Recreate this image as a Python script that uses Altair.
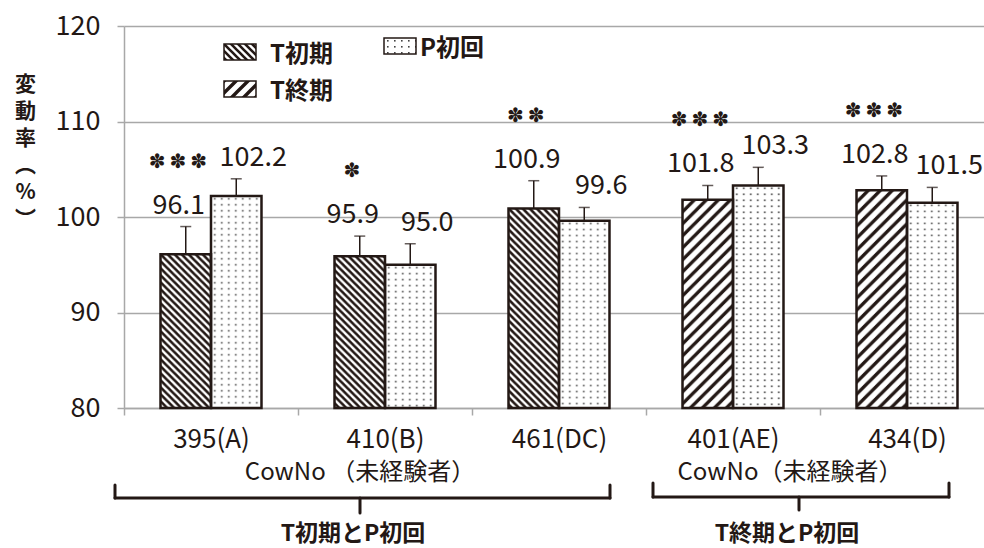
import altair as alt
import pandas as pd
from urllib.parse import quote

# ---- data -------------------------------------------------------------
categories = ["395(A)", "410(B)", "461(DC)", "401(AE)", "434(D)"]
t_phase = ["T初期", "T初期", "T初期", "T終期", "T終期"]
t_values = [96.1, 95.9, 100.9, 101.8, 102.8]
t_errors = [2.9, 2.1, 2.9, 1.5, 1.5]
p_values = [102.2, 95.0, 99.6, 103.3, 101.5]
p_errors = [1.8, 2.2, 1.4, 1.9, 1.6]
significance = ["***", "*", "**", "***", "***"]
y_ticks = [80, 90, 100, 110, 120]

rows = []
for i, cow in enumerate(categories):
    rows.append({"cow": cow, "slot": "T", "series": t_phase[i],
                 "value": t_values[i], "err": t_errors[i],
                 "sig": "\u2009".join("✽" * significance[i].count("*"))})
    rows.append({"cow": cow, "slot": "P", "series": "P初回",
                 "value": p_values[i], "err": p_errors[i], "sig": ""})
df = pd.DataFrame(rows)
one = pd.DataFrame({"k": [0]})

# ---- styling ----------------------------------------------------------
INK = "#231815"
GRID = "#a8a8a8"
FONT = "Noto Sans CJK JP"
LEFT, TOP = 124, 26


def pattern_uri(tile):
    svg = ("<svg xmlns='http://www.w3.org/2000/svg' width='100%' height='100%'>"
           "<defs><pattern id='p' patternUnits='userSpaceOnUse' " + tile + "</pattern></defs>"
           "<rect width='100%' height='100%' fill='white'/>"
           "<rect width='100%' height='100%' fill='url(#p)'/></svg>")
    return "data:image/svg+xml;charset=utf-8," + quote(svg)


PATTERNS = {
    "T初期": pattern_uri("width='7' height='7'><path d='M-1,-1 L8,8 M-1,6 L1,8 M6,-1 L8,1' "
                        "stroke='#231815' stroke-width='2.6'/>"),
    "T終期": pattern_uri("width='12' height='12'><path d='M-1,13 L13,-1 M-2,2 L2,-2 M10,14 L14,10' "
                        "stroke='#231815' stroke-width='3.4'/>"),
    "P初回": pattern_uri("width='7' height='6'><rect x='3' y='2' width='1.6' height='1.6' "
                        "fill='#444'/>"),
}

x_enc = alt.X(
    "cow:N",
    sort=categories,
    scale=alt.Scale(domain=categories, range=[0, 870], paddingInner=0, paddingOuter=0),
    axis=alt.Axis(title=None, labelAngle=0, tickBand="extent", tickSize=7,
                  tickColor=GRID, tickWidth=1.5, domainColor=GRID, domainWidth=1.5,
                  labelFont=FONT, labelFontSize=26, labelColor=INK,
                  labelBaseline="alphabetic", labelPadding=32, grid=False,
                  labelOverlap=False),
)
off_enc = alt.XOffset("slot:N", scale=alt.Scale(domain=["T", "P"], paddingInner=0,
                                                 paddingOuter=0.723))
y_enc = alt.Y(
    "value:Q",
    scale=alt.Scale(domain=[80, 120], zero=False, nice=False),
    axis=alt.Axis(values=y_ticks, grid=True, gridColor=GRID, gridWidth=1.5,
                  domainColor=GRID, domainWidth=1.5, tickColor=GRID, tickWidth=1.5,
                  tickSize=7, labelPadding=17, labelFont=FONT, labelFontSize=27,
                  labelColor=INK,
                  title=["変", "動", "率", "︵", "%", "︶"], titleAngle=0,
                  titleAlign="center", titleBaseline="alphabetic",
                  titleX=25 - LEFT, titleY=90 - TOP, titleLineHeight=27,
                  titleFont=FONT, titleFontSize=21, titleFontWeight="bold",
                  titleColor=INK),
)

base = alt.Chart(df).transform_calculate(hi="datum.value + datum.err").encode(
    x=x_enc, xOffset=off_enc
)

# patterned fills, one layer per series
fills = [
    base.transform_filter(alt.datum.series == s)
    .mark_image(url=u, aspect=False, align="left", baseline="top")
    .encode(y=y_enc, y2=alt.Y2(datum=80))
    for s, u in PATTERNS.items()
]

whisker = base.mark_rule(color=INK, strokeWidth=1.5).encode(y=y_enc, y2="hi:Q")
cap = base.mark_tick(color=INK, thickness=1.5, size=11).encode(y=alt.Y("hi:Q"))
bars = base.mark_bar(fill="transparent", stroke=INK, strokeWidth=2.5).encode(
    y=y_enc, y2=alt.Y2(datum=80)
)

label_t = base.transform_filter(alt.datum.slot == "T").mark_text(
    font=FONT, fontSize=27, color=INK, baseline="alphabetic", dx=-7, dy=-13
).encode(y=alt.Y("hi:Q"), text=alt.Text("value:Q", format=".1f"))
label_p = base.transform_filter(alt.datum.slot == "P").mark_text(
    font=FONT, fontSize=27, color=INK, baseline="alphabetic", dx=17, dy=-13
).encode(y=alt.Y("hi:Q"), text=alt.Text("value:Q", format=".1f"))
stars = base.transform_filter(alt.datum.slot == "T").mark_text(
    font="DejaVu Sans", fontSize=20, color=INK, baseline="middle",
    dx=-8, dy=-65
).encode(y=alt.Y("hi:Q"), text="sig:N")


# ---- legend -------------------------------------------------------------
def swatch(series, x0, y0, w=32, h=16):
    img = alt.Chart(one).mark_image(url=PATTERNS[series], aspect=False, width=w, height=h,
                                    align="left", baseline="top").encode(
        x=alt.value(x0 - LEFT), y=alt.value(y0 - TOP))
    box = alt.Chart(one).mark_rect(fill="transparent", stroke=INK, strokeWidth=1.5).encode(
        x=alt.value(x0 - LEFT), x2=alt.value(x0 - LEFT + w),
        y=alt.value(y0 - TOP), y2=alt.value(y0 - TOP + h))
    return [img, box]


def note(text, x0, y0, size=24, weight="bold", align="left"):
    return alt.Chart(one).mark_text(text=text, font=FONT, fontSize=size, fontWeight=weight,
                                    color=INK, align=align, baseline="alphabetic").encode(
        x=alt.value(x0 - LEFT), y=alt.value(y0 - TOP))


legend = (swatch("T初期", 224, 44) + swatch("T終期", 224, 81) + swatch("P初回", 384, 38)
          + [note("T初期", 270, 62), note("T終期", 270, 99), note("P初回", 420, 56)])


# ---- group brackets below the axis -------------------------------------
def seg(x1, y1, x2, y2):
    return alt.Chart(one).mark_rule(color=INK, strokeWidth=3, strokeCap="round").encode(
        x=alt.value(x1 - LEFT), x2=alt.value(x2 - LEFT),
        y=alt.value(y1 - TOP), y2=alt.value(y2 - TOP))


def bracket(xa, xb, xm, ytop, ybar, ytip):
    return [seg(xa, ytop, xa, ybar), seg(xa, ybar, xb, ybar),
            seg(xb, ytop, xb, ybar), seg(xm, ybar, xm, ytip)]


groups = (bracket(115, 610, 360, 485, 498, 513) + bracket(653, 949, 799, 483, 497, 510)
          + [note("CowNo （未経験者）", 360, 480, size=24, weight="normal", align="center"),
             note("CowNo（未経験者）", 790, 480, size=24, weight="normal", align="center"),
             note("T初期とP初回", 353, 541, size=23, align="center"),
             note("T終期とP初回", 787, 541, size=23, align="center")])

chart = alt.layer(
    *fills, whisker, bars, cap, label_t, label_p, stars, *legend, *groups
).properties(
    width=860, height=382,
    autosize=alt.AutoSizeParams(type="none"),
    padding={"left": LEFT, "top": TOP, "right": 0, "bottom": 140},
    background="white",
).configure_view(stroke=None)

chart.save("out.html", embed_options={"renderer": "svg", "actions": False})
